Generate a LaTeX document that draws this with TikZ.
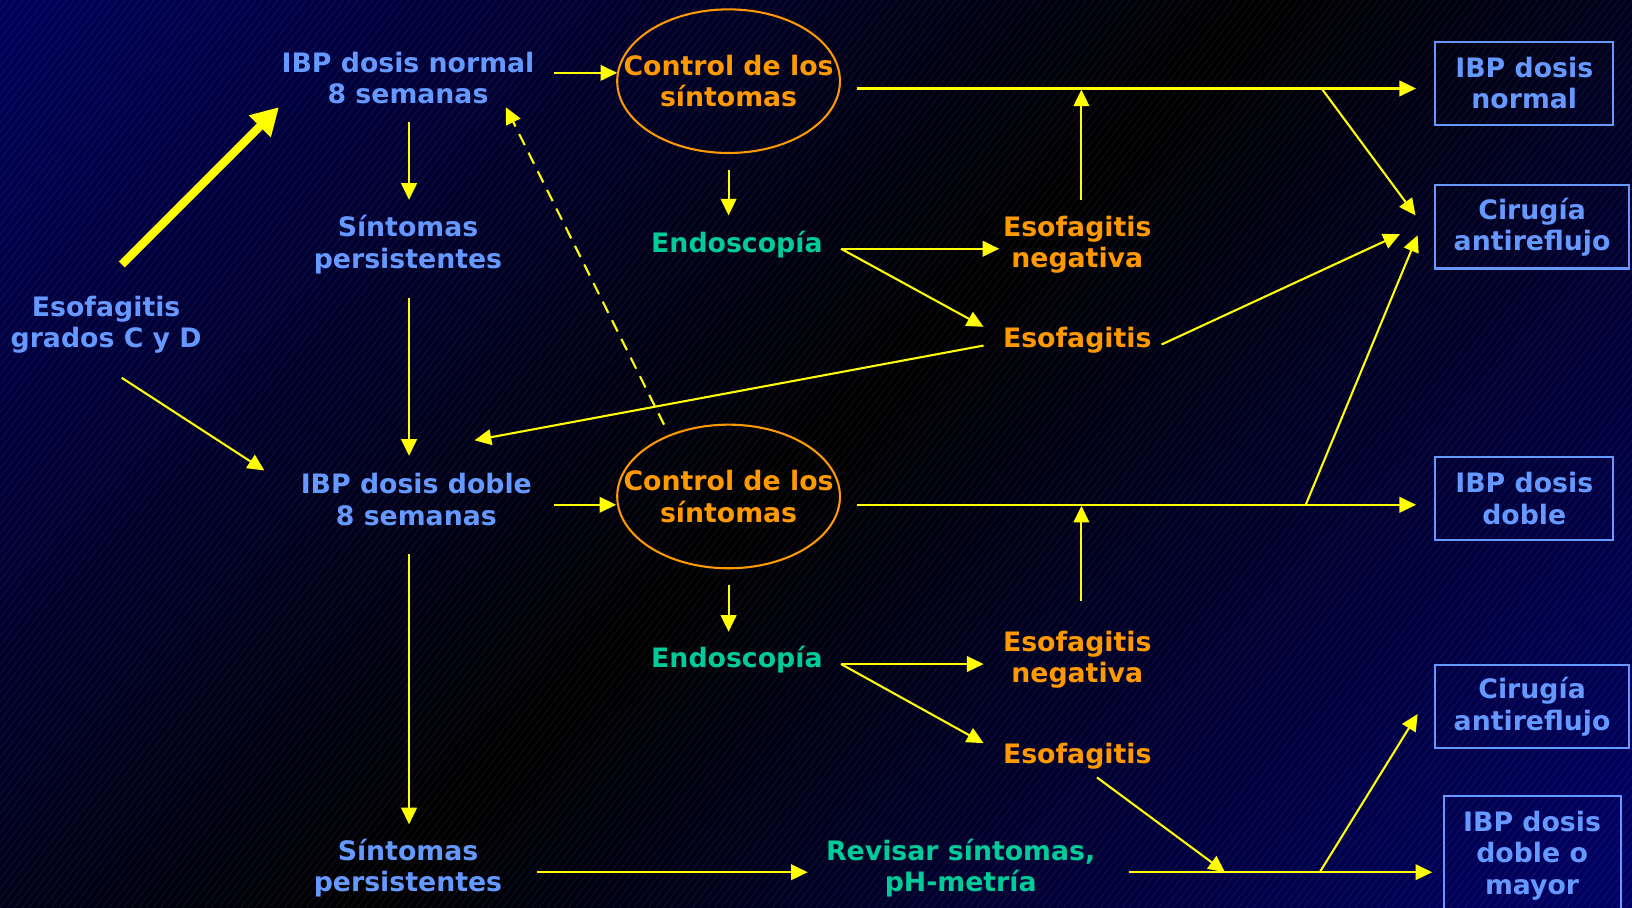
\documentclass[tikz,border=0pt]{standalone}
\usepackage{fontspec}
\setmainfont{DejaVu Sans}
\usetikzlibrary{arrows.meta,calc,shapes.geometric}
\definecolor{ylw}{RGB}{255,255,0}
\definecolor{blu}{RGB}{102,153,255}
\definecolor{org}{RGB}{255,153,0}
\definecolor{grn}{RGB}{0,204,153}
\definecolor{navyA}{RGB}{0,0,88}
\definecolor{navyB}{RGB}{0,0,100}
\pgfdeclarehorizontalshading{bgshade}{100bp}{color(0bp)=(navyA); color(16bp)=(navyA); color(50bp)=(black); color(84bp)=(navyB); color(100bp)=(navyB)}
\begin{document}
\begin{tikzpicture}[x=0.5pt,y=-0.5pt,
  txt/.style={inner sep=0pt, outer sep=0pt, align=center, font=\fontsize{12.85pt}{15pt}\selectfont\bfseries},
  bluetx/.style={txt, text=blu},
  orgtx/.style={txt, text=org},
  grntx/.style={txt, text=grn},
  ctlshape/.style={draw=org, line width=1pt, ellipse, minimum width=107pt, minimum height=69pt, inner sep=0pt},
  boxn/.style={txt, text=blu, draw=blu, line width=1pt, minimum height=40pt},
  arr/.style={draw=ylw, line width=1pt, -{Triangle[length=8pt,width=7.5pt]}},
  dsh/.style={arr, dash pattern=on 6pt off 4pt},
  thk/.style={draw=ylw, line width=4pt, -{Triangle[length=13pt,width=14pt]}}
]
\useasboundingbox (0,0) rectangle (1568,872);
% background
\shade[shading=bgshade, shading angle=-45] (0,0) rectangle (1568,872);
\begin{scope}
\clip (0,0) rectangle (1568,872);
\foreach \i in {-700,-693,...,1568} \draw[white, opacity=0.07, line width=0.4pt] (\i,872) -- (\i+680,0);
\end{scope}

% nodes
\node[bluetx] (esg) at (102,312) {Esofagitis\\grados C y D};
\node[bluetx] (ibpn) at (392,75) {IBP dosis normal\\8 semanas};
\node[bluetx] (sin1) at (392,235) {Síntomas\\persistentes};
\node[bluetx] (ibpd) at (400,480) {IBP dosis doble\\8 semanas};
\node[bluetx] (sin2) at (392,834) {Síntomas\\persistentes};
\node[ctlshape] (ctl1) at (700,78) {};
\node[orgtx] (ctl1t) at (ctl1) {Control de los\\síntomas};
\node[ctlshape] (ctl2) at (700,477) {};
\node[orgtx] (ctl2t) at (ctl2) {Control de los\\síntomas};
\node[grntx] (endo1) at (708,235) {Endoscopía};
\node[orgtx] (neg1) at (1035,235) {Esofagitis\\negativa};
\node[orgtx] (eso1) at (1035,327) {Esofagitis};
\node[grntx] (endo2) at (708,634) {Endoscopía};
\node[orgtx] (neg2) at (1035,634) {Esofagitis\\negativa};
\node[orgtx] (eso2) at (1035,727) {Esofagitis};
\node[grntx] (rev) at (923,834) {Revisar síntomas,\\pH-metría};
\node[boxn, minimum width=85.5pt] (b1) at (1464.5,80) {IBP dosis\\normal};
\node[boxn, minimum width=93pt] (b2) at (1472,218) {Cirugía\\antireflujo};
\node[boxn, minimum width=85.5pt] (b3) at (1464.5,479) {IBP dosis\\doble};
\node[boxn, minimum width=93pt] (b4) at (1472,679) {Cirugía\\antireflujo};
\node[boxn, minimum width=85pt, minimum height=57pt] (b5) at (1472,822) {IBP dosis\\doble o\\mayor};

% connectors
\draw[thk] ($(esg)+(15,-58)$) -- ($(ibpn)+(-124,28)$);
\draw[arr] ($(esg)+(15,51)$) -- ($(ibpd)+(-146,-28)$);
\draw[arr] ($(ibpn)+(140,-5)$) -- ($(ctl1)+(-107,-8)$);
\draw[arr] ($(ibpn)+(1,42)$) -- ($(sin1)+(1,-43)$);
\draw[arr] ($(sin1)+(1,51)$) -- ($(ibpd)+(-7,-42)$);
\draw[dsh] ($(ctl2)+(-62,-69)$) -- ($(ibpn)+(94,28)$);
\draw[arr] ($(ctl1)+(0,85)$) -- ($(endo1)+(-8,-28)$);
\draw[arr] ($(ctl1)+(123,7)$) -- ($(b1)+(-104,5)$);
\draw[arr] ($(neg1)+(4,-43)$) -- ($(neg1)+(4,-149)$);
\draw[arr] ($(endo1)+(100,4)$) -- ($(neg1)+(-75,4)$);
\draw[arr] ($(endo1)+(100,4)$) -- ($(eso1)+(-90,-13)$);
\draw[arr] ($(eso1)+(-90,5)$) -- ($(ibpd)+(56,-57)$);
\draw[arr] ($(eso1)+(81,4)$) -- ($(b2)+(-127,7)$);
\draw[arr] ($(b1)+(-194,6)$) -- ($(b2)+(-112,-11)$);
\draw[arr] ($(b3)+(-210,6)$) -- ($(b2)+(-110,8)$);
\draw[arr] ($(ibpd)+(132,5)$) -- ($(ctl2)+(-108,8)$);
\draw[arr] ($(ctl2)+(123,8)$) -- ($(b3)+(-104,6)$);
\draw[arr] ($(neg2)+(4,-57)$) -- ($(neg2)+(4,-148)$);
\draw[arr] ($(ctl2)+(0,85)$) -- ($(endo2)+(-8,-27)$);
\draw[arr] ($(endo2)+(100,4)$) -- ($(neg2)+(-90,4)$);
\draw[arr] ($(endo2)+(100,4)$) -- ($(eso2)+(-90,-13)$);
\draw[arr] ($(ibpd)+(-7,52)$) -- ($(sin2)+(1,-42)$);
\draw[arr] ($(sin2)+(124,4)$) -- ($(rev)+(-147,4)$);
\draw[arr] ($(rev)+(162,4)$) -- ($(b5)+(-96,16)$);
\draw[arr] ($(eso2)+(19,20)$) -- ($(rev)+(254,4)$);
\draw[arr] ($(rev)+(345,4)$) -- ($(b4)+(-110,7)$);
\end{tikzpicture}
\end{document}
